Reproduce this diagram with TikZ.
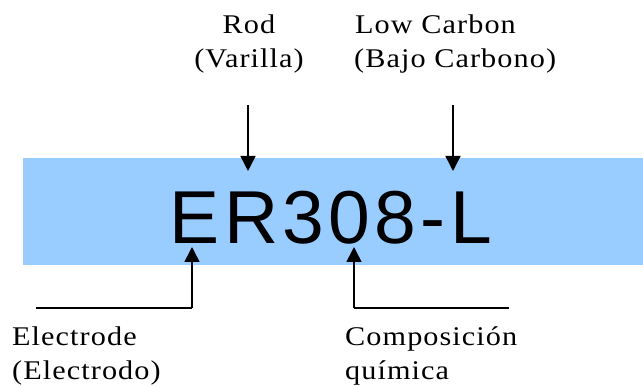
\documentclass[tikz,border=0pt]{standalone}
\usepackage{fontspec}
\setmainfont{Liberation Serif}[LetterSpace=4,FakeStretch=1.12]
\newfontfamily\bigsans{Liberation Sans}[LetterSpace=5.8]
\usetikzlibrary{arrows.meta}
\definecolor{bandblue}{HTML}{99CCFF}
\tikzset{
  lbl/.style={inner sep=0pt, font=\fontsize{27}{34}\selectfont},
  codetxt/.style={inner sep=0pt, font=\bigsans\fontsize{75}{75}\selectfont},
  pointer/.style={line width=1.5pt, -{Triangle[width=15pt,length=15pt]}},
  foot/.style={line width=2.8pt},
}
\begin{document}
\begin{tikzpicture}[x=1pt,y=-1pt]
\useasboundingbox (0,0) rectangle (643,387);
% band
\node[fill=bandblue, inner sep=0pt, minimum width=620pt, minimum height=107pt, anchor=north west] (band) at (23,158) {};
\node[codetxt, anchor=base] (code) at (331,244) {ER308-L};
% top labels
\node[lbl, anchor=base] (rod) at (249,34) {Rod};
\node[lbl, anchor=base] (varilla) at (249,68) {(Varilla)};
\node[lbl, anchor=base west] (low) at (355,34) {Low Carbon};
\node[lbl, anchor=base west] (bajo) at (354,68) {(Bajo Carbono)};
% bottom labels
\node[lbl, anchor=base west] (electrode) at (12,346) {Electrode};
\node[lbl, anchor=base west] (electrodo) at (12,380) {(Electrodo)};
\node[lbl, anchor=base west] (compo) at (345,346) {Composición};
\node[lbl, anchor=base west] (quimica) at (345,380) {química};
% connector points
\coordinate (rodstart) at (248,105);
\coordinate (rodtip) at (248,171);
\coordinate (lowstart) at (453,105);
\coordinate (lowtip) at (453,171);
\coordinate (elend) at (36,308);
\coordinate (elcorner) at (192,308);
\coordinate (eltip) at (192,247);
\coordinate (cocorner) at (354,308);
\coordinate (coend) at (509,308);
\coordinate (cotip) at (354,247);
% connectors
\draw[pointer] (rodstart) -- (rodtip);
\draw[pointer] (lowstart) -- (lowtip);
\draw[foot] (elend) -- (elcorner);
\draw[pointer] (elcorner) -- (eltip);
\draw[foot] (coend) -- (cocorner);
\draw[pointer] (cocorner) -- (cotip);
\end{tikzpicture}
\end{document}
